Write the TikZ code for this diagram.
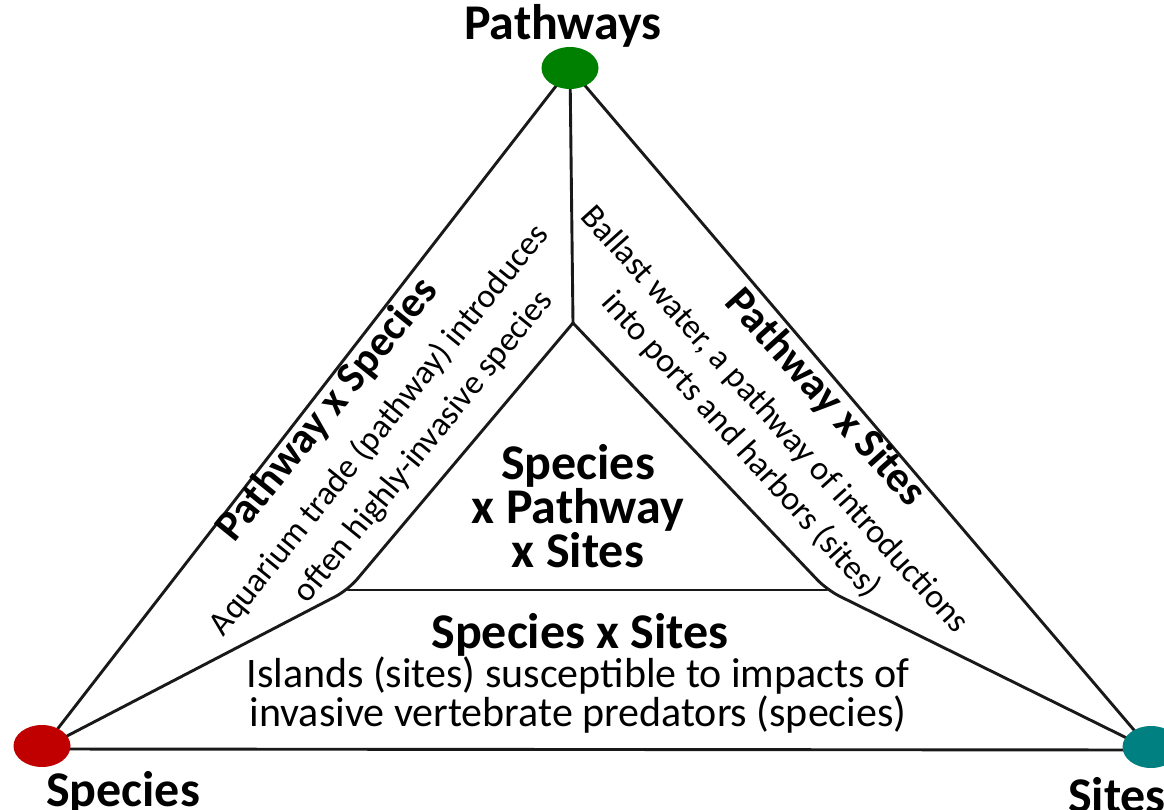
\documentclass[tikz,border=0pt]{standalone}
\usepackage{fontspec}
\setmainfont{Carlito}
\usetikzlibrary{shapes.geometric}
\definecolor{pgreen}{RGB}{0,128,0}
\definecolor{sred}{RGB}{192,0,0}
\definecolor{steal}{RGB}{0,128,128}
\tikzset{
  edge/.style={line width=2.9pt, line cap=round, draw=black!90},
  dot/.style={ellipse, minimum width=57pt, minimum height=42pt, inner sep=0pt},
  lbl/.style={inner sep=0pt, font=\fontsize{50}{46}\selectfont\bfseries},
  midtxt/.style={inner sep=0pt, align=center, font=\fontsize{50}{44}\selectfont\bfseries},
  rotb/.style={inner sep=0pt, font=\fontsize{43}{43}\selectfont\bfseries},
  rotr/.style={inner sep=0pt, font=\fontsize{34}{40}\selectfont},
  bodytxt/.style={inner sep=0pt, align=center, font=\fontsize{42}{37}\selectfont},
}
\begin{document}
\begin{tikzpicture}[x=1pt,y=-1pt]
\useasboundingbox[fill=white] (0,0) rectangle (1164,810);
% vertices
\coordinate (P) at (570,68);
\coordinate (S) at (42,749);
\coordinate (T) at (1151,750);
\coordinate (I) at (573,323);
\coordinate (L) at (348,590);
\coordinate (R) at (827,590);
% edges
\draw[edge] (P) -- (S);
\draw[edge] (P) -- (T);
\draw[edge] (S) -- (T);
\draw[edge] (P) -- (I);
\draw[edge, rounded corners=14pt] (I) -- (L) -- (S);
\draw[edge, rounded corners=14pt] (I) -- (R) -- (T);
\draw[edge] (L) -- (R);
% dots
\node[dot, fill=pgreen] (pw) at (570,68) {};
\node[dot, fill=sred] (sp) at (42,746) {};
\node[dot, fill=steal] (st) at (1151,747) {};
% vertex labels
\node[lbl] (lpw) at (563,26) {Pathways};
\node[lbl] (lsp) at (123,793) {Species};
\node[lbl] (lst) at (1117,795) {Sites};
% centre
\node[midtxt] (spt) at (578,506) {Species\\x Pathway\\x Sites};
\node[lbl] (sxs) at (580,635) {Species x Sites};
\node[bodytxt] (isl) at (578,695) {Islands (sites) susceptible to impacts of\\invasive vertebrate predators (species)};
% left side
\node[rotb, rotate=51] (pxs) at (328,410) {Pathway x Species};
\node[rotr, rotate=51] (aq1) at (379,430) {Aquarium trade (pathway) introduces};
\node[rotr, rotate=51] (aq2) at (424,447) {often highly-invasive species};
% right side
\node[rotb, rotate=-48] (pxt) at (825,398) {Pathway x Sites};
\node[rotr, rotate=-48] (bw1) at (774,420) {Ballast water, a pathway of introductions};
\node[rotr, rotate=-48] (bw2) at (741,445) {into ports and harbors (sites)};
\end{tikzpicture}
\end{document}
